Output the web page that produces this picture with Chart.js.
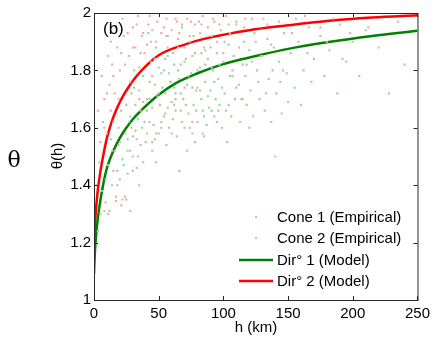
<!DOCTYPE html>
<html>
<head>
<meta charset="utf-8">
<script src="https://cdn.jsdelivr.net/npm/chart.js@4"></script>
<style>
  body { margin: 0; background: #fff; }
  #c { display: block; }
</style>
</head>
<body>
<canvas id="c" width="435" height="337"></canvas>
<script>
// ticks
const xTicks = [0, 50, 100, 150, 200, 250];
const yTicks = [1, 1.2, 1.4, 1.6, 1.8, 2];

// model curves (h, theta)
const modelH1 = [0, 0.5, 1, 2, 4, 7, 10, 15, 20, 25, 30, 37.5, 50, 63, 80, 100, 125, 150, 180, 215, 250];
const modelT1 = [1.09, 1.15, 1.19, 1.245, 1.32, 1.40, 1.46, 1.52, 1.565, 1.60, 1.63, 1.665, 1.715, 1.755, 1.79, 1.822, 1.85, 1.875, 1.898, 1.92, 1.938];
const modelH2 = [0, 1, 2, 3, 5, 7, 10, 14, 17, 20, 25, 32, 40, 50, 70, 90, 120, 150, 180, 215, 250];
const modelT2 = [1.14, 1.28, 1.34, 1.385, 1.45, 1.50, 1.565, 1.625, 1.66, 1.69, 1.73, 1.775, 1.815, 1.853, 1.89, 1.915, 1.94, 1.957, 1.972, 1.984, 1.992];

// empirical points, cone 1 (green)
const cone1 = [
  [3,1.24],[5,1.30],[8,1.31],[12,1.31],[25,1.35],[6,1.38],[9,1.42],[11,1.47],[14,1.40],[16,1.52],
  [18,1.45],[20,1.55],[22,1.49],[24,1.58],[13,1.56],[15,1.62],[19,1.60],[21,1.66],[26,1.44],[28,1.52],
  [27,1.62],[30,1.57],[32,1.68],[34,1.50],[35,1.73],[37,1.60],[38,1.78],[40,1.55],[41,1.66],[43,1.70],
  [44,1.83],[46,1.61],[47,1.75],[48,1.88],[50,1.58],[51,1.68],[52,1.79],[54,1.64],[55,1.72],[56,1.92],
  [57,1.85],[58,1.60],[59,1.76],[60,1.69],[33,1.46],[45,1.52],[31,1.80],[36,1.86],[42,1.93],[29,1.72],
  [61,1.63],[62,1.82],[63,1.72],[64,1.57],[65,1.88],[66,1.77],[67,1.66],[68,1.95],[69,1.70],[70,1.60],
  [71,1.84],[72,1.75],[73,1.65],[74,1.90],[75,1.79],[76,1.58],[77,1.68],[78,1.86],[79,1.73],[80,1.62],
  [81,1.97],[82,1.81],[83,1.70],[84,1.66],[85,1.88],[86,1.76],[87,1.61],[88,1.84],[89,1.67],[90,1.73],
  [91,1.92],[92,1.80],[93,1.64],[94,1.70],[95,1.86],[96,1.77],[97,1.68],[98,1.94],[99,1.60],[100,1.83],
  [66,1.45],[72,1.52],[78,1.55],[64,2.0],[88,2.0],
  [101,1.72],[102,1.66],[104,1.89],[105,1.78],[106,1.64],[108,1.85],[109,1.70],[110,1.96],[112,1.75],[113,1.62],
  [115,1.82],[116,1.90],[118,1.68],[120,1.87],[121,1.73],[123,1.64],[124,1.93],[126,1.80],[128,1.70],[130,1.85],
  [132,1.66],[134,1.91],[135,1.77],[137,1.62],[139,1.88],[141,1.72],[143,1.83],[145,1.65],[147,1.93],[149,1.79],
  [103,1.55],[140,1.50],[112,2.0],
  [152,1.86],[155,1.74],[158,1.90],[162,1.80],[166,1.95],[170,1.84],[175,1.92],[182,1.87],[190,1.96],[200,1.90],
  [210,1.94],[160,1.68],[178,1.78],[195,1.83],
  [23,1.47],[26,1.56],[28,1.64],[30,1.50],[32,1.59],[34,1.63],[36,1.54],[38,1.69],[39,1.62],[41,1.58],
  [43,1.76],[45,1.67],[47,1.56],[49,1.71],[50,1.81],[52,1.62],[53,1.74],[55,1.84],[57,1.67],[58,1.79],
  [60,1.58],[62,1.74],[63,1.66],[65,1.80],[67,1.72],[68,1.62],[70,1.83],[71,1.68],[73,1.78],[74,1.60],
  [76,1.74],[77,1.92],[79,1.66],[80,1.80],[82,1.73],[83,1.86],[85,1.64],[86,1.82],[88,1.71],[90,1.88],
  [91,1.66],[93,1.76],[95,1.62],[97,1.82],[99,1.74],[101,1.90],[104,1.68],[107,1.80],[110,1.74],[114,1.70],
  [117,1.78],[122,1.83],[127,1.76],[133,1.72],[138,1.80],[144,1.76],[48,1.48],[56,1.54],[85,1.57],[120,1.60],
  [17,1.36],[20,1.42]
];

// empirical points, cone 2 (pink)
const cone2 = [
  [2,1.40],[4,1.48],[9,1.34],[11,1.30],[17,1.345],[21,1.33],[22,1.35],[24,1.36],[28,1.31],[5,1.55],
  [7,1.62],[8,1.70],[10,1.58],[12,1.75],[13,1.66],[14,1.82],[15,1.45],[16,1.72],[18,1.88],[19,1.54],
  [20,1.80],[23,1.92],[25,1.68],[26,1.52],[27,1.85],[3,1.66],[6,1.78],
  [29,1.60],[30,1.95],[31,1.74],[32,1.88],[33,1.56],[34,1.99],[35,1.81],[36,1.66],[37,1.92],[38,1.48],
  [39,1.86],[40,2.0],[41,1.70],[42,1.96],[43,1.62],[44,1.90],[45,1.78],[46,2.0],[47,1.84],[48,1.58],
  [49,1.97],[50,1.72],[52,1.93],[53,2.0],[54,1.80],[55,1.65],[56,1.98],[57,1.88],[58,2.0],[59,1.76],
  [60,1.94],[61,1.86],[62,2.0],[63,1.70],[64,1.97],[65,1.91],[66,2.0],[67,1.82],[68,1.96],[69,2.0],[70,1.88],
  [72,1.98],[73,2.0],[74,1.92],[76,1.85],[77,2.0],[78,1.96],[80,1.74],[81,2.0],[82,1.93],[84,1.99],
  [85,2.0],[86,1.87],[88,1.95],[90,2.0],[91,1.81],[92,1.98],[94,2.0],[95,1.90],[97,1.96],[98,2.0],
  [100,1.86],[102,1.99],[103,2.0],[105,1.93],[107,1.78],[108,2.0],[110,1.97],[112,1.88],[114,2.0],[116,1.95],
  [118,1.82],[120,2.0],[122,1.98],[125,1.90],[127,2.0],[129,1.85],[76,1.62],[84,1.58],[96,1.66],[115,1.70],
  [132,2.0],[134,1.96],[137,1.89],[140,2.0],[143,1.97],[146,1.80],[150,2.0],[153,1.93],[156,1.98],[160,2.0],
  [165,1.86],[170,2.0],[175,1.95],[180,1.90],[185,1.98],[192,1.84],[198,1.93],[205,1.78],[212,1.95],[220,1.88],
  [228,1.72],[235,1.97],[240,1.82],[168,1.76],[150,1.69],[188,1.72],
  [8,1.60],[10,1.72],[11,1.85],[13,1.90],[15,1.78],[17,1.95],[19,1.70],[21,1.86],[22,1.98],[24,1.82],
  [26,1.93],[28,1.76],[30,1.88],[33,1.96],[35,1.70],[38,1.93],[41,1.89],[43,1.99],[45,1.94],[48,1.90],
  [51,2.0],[54,1.95],[57,1.92],[60,2.0],[63,1.98],[66,1.93],[71,2.0],[75,1.97],[79,2.0],[83,1.96],
  [87,2.0],[93,1.97],[99,2.0],[104,1.96],[111,2.0],[117,1.98],[124,2.0],[131,1.98],[138,2.0],[145,2.0],
  [155,2.0],[163,1.99],[30,1.45],[35,1.40],[45,1.55],[52,1.60],[62,1.68],[70,1.74],[18,1.40],[14,1.52]
];

const legendNames = ['Cone 1 (Empirical)', 'Cone 2 (Empirical)', 'Dir\u00b0 1 (Model)', 'Dir\u00b0 2 (Model)'];

const green = '#008000';
const red = '#ff0000';
const lightGreen = '#9fd29f';
const lightPink = '#f4a9a9';
const font = '"Liberation Sans", Arial, sans-serif';

const toXY = arr => arr.map(p => ({ x: p[0], y: p[1] }));
const zipXY = (hs, ts) => hs.map((h, i) => ({ x: h, y: ts[i] }));

// box, inward ticks, titles and legend drawn by hand
const decor = {
  id: 'decor',
  afterDraw(chart) {
    const ctx = chart.ctx;
    const a = chart.chartArea;
    const xs = chart.scales.x, ys = chart.scales.y;
    ctx.save();
    ctx.strokeStyle = '#262626';
    ctx.lineWidth = 1;
    ctx.strokeRect(a.left + 0.5, a.top + 0.5, a.right - a.left, a.bottom - a.top);
    ctx.beginPath();
    xTicks.forEach(v => {
      const px = Math.round(xs.getPixelForValue(v)) + 0.5;
      ctx.moveTo(px, a.bottom); ctx.lineTo(px, a.bottom - 4);
      ctx.moveTo(px, a.top); ctx.lineTo(px, a.top + 4);
    });
    yTicks.forEach(v => {
      const py = Math.round(ys.getPixelForValue(v)) + 0.5;
      ctx.moveTo(a.left, py); ctx.lineTo(a.left + 4, py);
      ctx.moveTo(a.right, py); ctx.lineTo(a.right - 4, py);
    });
    ctx.stroke();

    ctx.fillStyle = '#000';
    ctx.textAlign = 'center';
    ctx.textBaseline = 'middle';
    // big theta at far left
    ctx.font = '22px "DejaVu Serif", "Liberation Serif", serif';
    ctx.fillText('\u03b8', 14, 161);
    // axis titles
    ctx.font = '15px ' + font;
    ctx.fillText('h (km)', 256, 328);
    ctx.save();
    ctx.translate(58, 156);
    ctx.rotate(-Math.PI / 2);
    ctx.fillText('\u03b8(h)', 0, 0);
    ctx.restore();
    // panel label
    ctx.font = '17px ' + font;
    ctx.textAlign = 'left';
    ctx.fillText('(b)', 103, 29);

    // legend
    const rows = [217, 238, 260, 281];
    ctx.font = '15px ' + font;
    rows.forEach((y, i) => {
      if (i < 2) {
        ctx.fillStyle = i === 0 ? lightGreen : lightPink;
        ctx.fillRect(255, y - 1, 2, 2);
      } else {
        ctx.strokeStyle = i === 2 ? green : red;
        ctx.lineWidth = 2.5;
        ctx.beginPath();
        ctx.moveTo(239, y); ctx.lineTo(273, y);
        ctx.stroke();
      }
      ctx.fillStyle = '#000';
      ctx.fillText(legendNames[i], 277, y + 1);
    });
    ctx.restore();
  }
};

new Chart(document.getElementById('c'), {
  type: 'scatter',
  data: {
    datasets: [
      {
        label: legendNames[0],
        data: toXY(cone1),
        pointStyle: 'rect',
        pointRadius: 1.5,
        backgroundColor: lightGreen,
        borderWidth: 0
      },
      {
        label: legendNames[1],
        data: toXY(cone2),
        pointStyle: 'rect',
        pointRadius: 1.5,
        backgroundColor: lightPink,
        borderWidth: 0
      },
      {
        type: 'line',
        label: legendNames[2],
        data: zipXY(modelH1, modelT1),
        borderColor: green,
        borderWidth: 2.5,
        pointRadius: 0,
        cubicInterpolationMode: 'monotone',
        fill: false
      },
      {
        type: 'line',
        label: legendNames[3],
        data: zipXY(modelH2, modelT2),
        borderColor: red,
        borderWidth: 2.5,
        pointRadius: 0,
        cubicInterpolationMode: 'monotone',
        fill: false
      }
    ]
  },
  options: {
    responsive: false,
    animation: false,
    layout: { padding: { top: 13, right: 14, left: 0, bottom: 0 } },
    plugins: {
      legend: { display: false },
      tooltip: { enabled: false }
    },
    scales: {
      x: {
        type: 'linear',
        min: 0,
        max: 250,
        afterBuildTicks: s => { s.ticks = xTicks.map(v => ({ value: v })); },
        afterFit: s => { s.height = 37; },
        grid: { display: false, drawTicks: false },
        border: { display: false },
        ticks: { color: '#000', font: { family: font, size: 15 }, padding: 5, maxRotation: 0 }
      },
      y: {
        type: 'linear',
        min: 1,
        max: 2,
        afterBuildTicks: s => { s.ticks = yTicks.map(v => ({ value: v })); },
        afterFit: s => { s.width = 94; },
        grid: { display: false, drawTicks: false },
        border: { display: false },
        ticks: {
          color: '#000',
          font: { family: font, size: 15 },
          padding: 3,
          callback: v => String(Number(v.toFixed(1)))
        }
      }
    }
  },
  plugins: [decor]
});
</script>
</body>
</html>
